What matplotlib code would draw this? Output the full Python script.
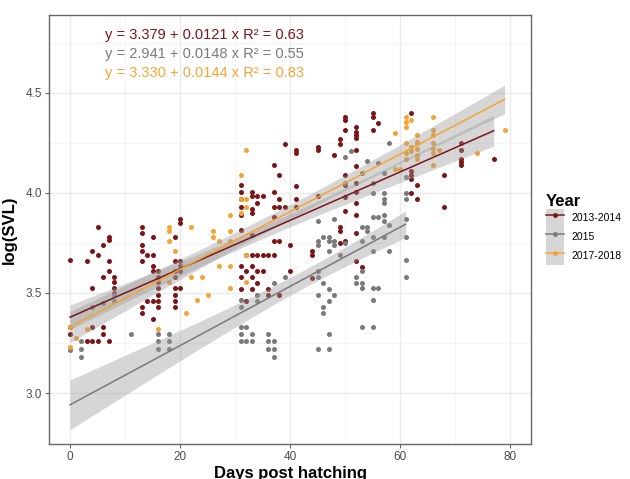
import numpy as np
import matplotlib.pyplot as plt
from matplotlib.patches import Patch
from matplotlib.lines import Line2D

plt.rcParams['font.family'] = ['Liberation Sans', 'DejaVu Sans']

years = ["2013-2014", "2015", "2017-2018"]
colors = ["#7D1517", "#7A7A7A", "#F8A331"]
intercepts = [3.379, 2.941, 3.330]
slopes = [0.0121, 0.0148, 0.0144]
r2 = [0.63, 0.55, 0.83]

# day post hatching -> log(SVL) values
pts_1314 = {
    0: [3.665, 3.33, 3.295], 3: [3.66, 3.26], 4: [3.71, 3.525, 3.33, 3.26],
    5: [3.83, 3.69, 3.26], 6: [3.74, 3.58, 3.33, 3.295],
    7: [3.78, 3.765, 3.66, 3.61, 3.26], 8: [3.58, 3.555, 3.525, 3.50],
    13: [3.83, 3.80, 3.74, 3.71, 3.66, 3.43, 3.40], 14: [3.69, 3.46],
    15: [3.78, 3.69, 3.635, 3.61, 3.46, 3.37],
    16: [3.61, 3.58, 3.555, 3.525, 3.49, 3.46, 3.43],
    19: [3.78, 3.66, 3.61, 3.58, 3.525, 3.49, 3.46, 3.43],
    20: [3.87, 3.85, 3.66, 3.635, 3.61, 3.525],
    31: [4.04, 4.005, 3.97, 3.93, 3.89, 3.815, 3.635, 3.58, 3.52],
    32: [3.69, 3.61, 3.46],
    33: [4.005, 3.985, 3.92, 3.90, 3.79, 3.69, 3.635, 3.58, 3.52],
    34: [3.985, 3.95, 3.69, 3.61, 3.55], 35: [3.985, 3.69, 3.61],
    36: [3.69, 3.52, 3.49], 37: [4.14, 4.005, 3.93, 3.88, 3.76, 3.69],
    38: [4.09, 3.97, 3.93, 3.76, 3.49], 39: [4.245, 3.93], 40: [3.74, 3.61],
    41: [4.215, 4.20, 4.035, 3.97, 3.93], 44: [3.71, 3.69, 3.575],
    45: [4.23, 4.215, 3.985], 48: [4.19],
    49: [4.27, 4.245, 3.83, 3.81, 3.75],
    50: [4.38, 4.365, 4.315, 4.09, 4.04, 3.98, 3.91, 3.76],
    52: [4.33, 4.305, 4.29, 4.275, 4.215, 4.135, 4.05, 4.005, 3.95, 3.89, 3.80, 3.66],
    53: [3.63], 55: [4.40, 4.38, 4.315], 56: [4.35],
    62: [4.40, 4.11, 4.09, 4.07, 4.00], 63: [4.04, 3.97], 68: [4.09, 3.93],
    71: [4.25, 4.215, 4.17, 4.155, 4.14], 77: [4.17],
}
pts_2015 = {
    0: [3.215], 2: [3.26, 3.22, 3.18], 4: [3.43], 6: [3.45], 8: [3.49, 3.46],
    11: [3.295], 16: [3.295, 3.26, 3.22], 18: [3.295, 3.26, 3.22],
    31: [3.465, 3.43, 3.33, 3.295, 3.26], 32: [3.33, 3.26], 33: [3.295, 3.26],
    34: [3.49, 3.46], 36: [3.295, 3.26, 3.22], 37: [3.55, 3.26, 3.22, 3.18],
    39: [3.58], 45: [3.86, 3.76, 3.74, 3.61, 3.58, 3.49, 3.22],
    46: [3.78, 3.55, 3.43, 3.40], 47: [3.78, 3.76, 3.71, 3.52, 3.46, 3.295, 3.22],
    48: [3.87, 3.76, 3.74, 3.49], 49: [3.69], 50: [4.18, 4.05, 3.75],
    51: [4.21], 52: [3.58, 3.55],
    53: [4.10, 3.83, 3.76, 3.61, 3.55, 3.525, 3.33], 54: [4.16, 3.83, 3.81],
    55: [4.05, 4.00, 3.88, 3.78, 3.71, 3.525, 3.465, 3.33],
    56: [4.15, 3.88, 3.525], 57: [4.10, 4.00, 3.97, 3.95, 3.89, 3.86, 3.78],
    58: [4.25, 3.84, 3.71], 61: [4.08, 4.00, 3.97, 3.87, 3.78, 3.665, 3.58],
}
pts_1718 = {
    0: [3.33, 3.23], 1: [3.275], 3: [3.32], 16: [3.32],
    18: [3.83, 3.81, 3.76, 3.555], 19: [3.71], 21: [3.40], 22: [3.83, 3.58],
    23: [3.465], 24: [3.58], 25: [3.49], 26: [3.81, 3.78],
    27: [3.76, 3.635], 29: [3.89, 3.81, 3.76, 3.635, 3.525],
    31: [4.09, 3.97, 3.90], 32: [4.215, 3.97, 3.93, 3.69, 3.555],
    59: [4.30, 4.12], 60: [4.12], 61: [4.38, 4.355, 4.33, 4.25, 4.20, 4.17],
    62: [4.365, 4.23, 4.21], 63: [4.29, 4.255, 4.25, 4.22, 4.19, 4.17],
    66: [4.38, 4.315, 4.29, 4.25, 4.22, 4.20, 4.14], 67: [4.215],
    74: [4.20], 79: [4.315],
}
groups = [pts_1314, pts_2015, pts_1718]


def unpack(pts):
    xs, ys = [], []
    for d, vals in pts.items():
        xs += [d] * len(vals)
        ys += vals
    return np.array(xs, float), np.array(ys, float)


fig = plt.figure(figsize=(6.3, 4.79), dpi=100)
ax = fig.add_axes([0.078, 0.073, 0.765, 0.896])

data = [unpack(p) for p in groups]
for (x, y), c in zip(data, colors):
    ax.scatter(x, y, s=13, color=c, linewidths=0, zorder=2)

# regression lines with 95% confidence bands
for (x, y), c, a, b in zip(data, colors, intercepts, slopes):
    n = len(x)
    resid = y - (a + b * x)
    s = np.sqrt(np.sum(resid ** 2) / (n - 2))
    sxx = np.sum((x - x.mean()) ** 2)
    xx = np.linspace(x.min(), x.max(), 80)
    fit = a + b * xx
    se = s * np.sqrt(1 / n + (xx - x.mean()) ** 2 / sxx)
    ax.fill_between(xx, fit - 1.98 * se, fit + 1.98 * se, color="#999999",
                    alpha=0.4, linewidth=0, zorder=3)
    ax.plot(xx, fit, color=c, lw=1.1, zorder=4)

for i, (c, a, b, r) in enumerate(zip(colors, intercepts, slopes, r2)):
    ax.text(6.4, 4.79 - i * 0.095,
            f"y = {a:.3f} + {b:.4f} x R² = {r:.2f}",
            color=c, fontsize=10.5, va="center", ha="left")

ax.set_xlim(-3.8, 83.8)
ax.set_ylim(2.745, 4.89)
ax.set_xticks([0, 20, 40, 60, 80])
ax.set_xticks([10, 30, 50, 70], minor=True)
ax.set_yticks([3.0, 3.5, 4.0, 4.5])
ax.set_yticks([3.25, 3.75, 4.25, 4.75], minor=True)
ax.grid(which="major", color="#EBEBEB", lw=1.0, zorder=0)
ax.grid(which="minor", color="#F2F2F2", lw=0.6, zorder=0)
ax.set_axisbelow(True)
ax.tick_params(which="major", length=3, color="#666666", labelsize=8.5,
               labelcolor="#4D4D4D", pad=2)
ax.tick_params(which="minor", length=0)
for sp in ax.spines.values():
    sp.set_color("#666666")
    sp.set_linewidth(1.0)

ax.set_xlabel("Days post hatching", fontsize=12, fontweight="bold", labelpad=2)
ax.set_ylabel("log(SVL)", fontsize=12, fontweight="bold", labelpad=6)

handles = [(Patch(facecolor="#999999", alpha=0.4, linewidth=0),
            Line2D([], [], color=c, lw=1.1, marker="o", ms=2.5))
           for c in colors]
leg = ax.legend(handles, years, title="Year", loc="center left",
                bbox_to_anchor=(1.03, 0.5), frameon=False, fontsize=7.5,
                handlelength=1.8, handleheight=2.4, labelspacing=0,
                handletextpad=0.7, borderaxespad=0, borderpad=0)
leg.get_title().set_fontweight("bold")
leg.get_title().set_fontsize(12)
leg._legend_box.align = "left"

fig.savefig("out.png", dpi=100)
